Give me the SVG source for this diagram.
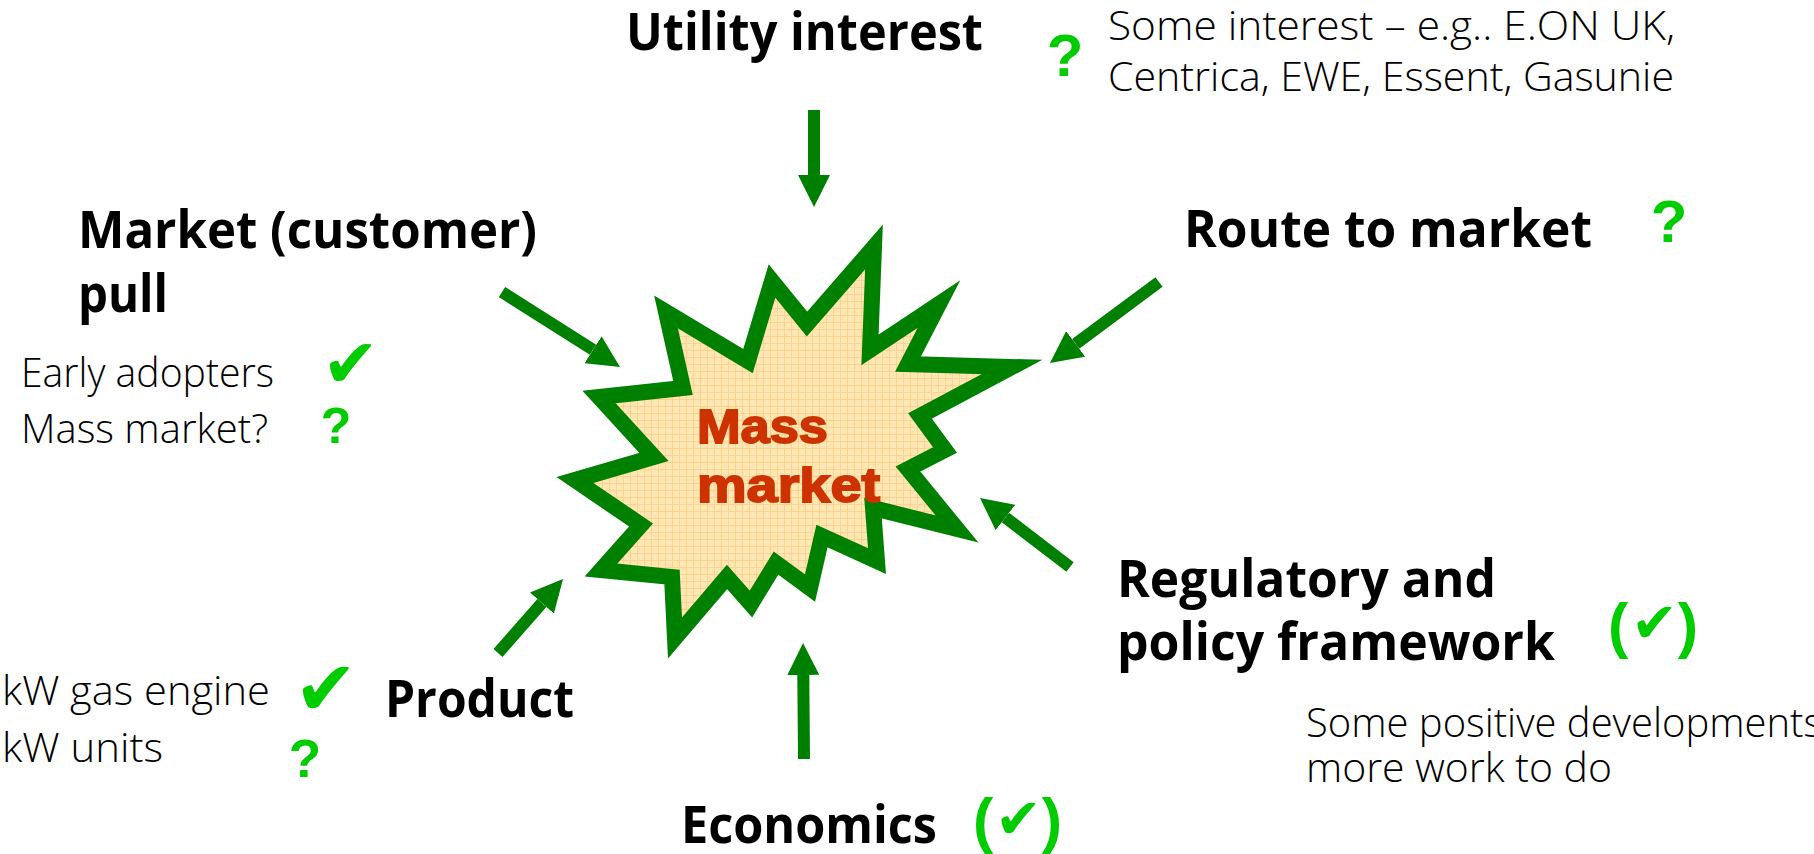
<svg xmlns="http://www.w3.org/2000/svg" width="1814" height="854" viewBox="0 0 1814 854">
<defs>
<style>
.h{font-family:"Open Sans","Liberation Sans",sans-serif;font-weight:bold;font-size:52px;fill:#000}
.b{font-family:"Open Sans","Liberation Sans",sans-serif;font-weight:300;font-size:41px;fill:#000}
.q{font-family:"Liberation Sans",sans-serif;font-weight:bold;fill:#00CC00;text-anchor:middle}
.ck{font-family:"DejaVu Sans",sans-serif;fill:#00CC00}
.par{font-family:"Liberation Sans",sans-serif;font-weight:bold;font-size:61px;fill:#00CC00}
.arr{stroke:#008000;stroke-width:12;fill:none;marker-end:url(#ah)}
.mm{font-family:"Liberation Sans",sans-serif;font-weight:bold;font-size:49px;fill:#CC3300;stroke:#CC3300;stroke-width:1.8}
</style>
<marker id="ah" markerUnits="strokeWidth" markerWidth="2.667" markerHeight="2.667" viewBox="0 0 32 32" refX="0" refY="16" orient="auto">
<path d="M0,0 L32,16 L0,32 z" fill="#008000"/>
</marker>
<pattern id="grid" width="7" height="7" patternUnits="userSpaceOnUse">
<rect width="7" height="7" fill="#FFE6B5"/>
<path d="M0,0.5 H7 M0.5,0 V7" stroke="#FFD48A" stroke-width="1"/>
</pattern>
</defs>

<g id="mass-market">
<polygon points="874,247 870,350 939,304 908,364 1012,367 920,416 945,450 908,469 957,529 873,508 877,561 822,536 810,588 776,563 751,604 727,577 675,638 672,577 601,570 641,525 575,480 654,457 599,397 683,388 666,312 748,361 772,281 807,324" fill="url(#grid)" stroke="#008000" stroke-width="16" stroke-linejoin="miter" stroke-miterlimit="30"/>
<text class="mm" x="697" y="443" textLength="131" lengthAdjust="spacingAndGlyphs">Mass</text>
<text class="mm" x="697" y="502" textLength="183" lengthAdjust="spacingAndGlyphs">market</text>
</g>

<g id="connectors">
<line class="arr" x1="814" y1="110" x2="814" y2="175"/>
<line class="arr" x1="804" y1="759" x2="803.3" y2="675"/>
<line class="arr" x1="1159" y1="282" x2="1075.7" y2="343.9"/>
<line class="arr" x1="1070" y1="567" x2="1005.4" y2="517.5"/>
<line class="arr" x1="502" y1="292" x2="593" y2="349.8"/>
<line class="arr" x1="498" y1="653" x2="541.9" y2="603"/>
</g>

<g id="utility-interest">
<text class="h" x="626" y="50" textLength="357" lengthAdjust="spacingAndGlyphs">Utility interest</text>
<text class="q" x="1065" y="76" font-size="60">?</text>
<text class="b" x="1108" y="40" textLength="567" lengthAdjust="spacingAndGlyphs">Some interest – e.g.. E.ON UK,</text>
<text class="b" x="1108" y="91" textLength="566" lengthAdjust="spacingAndGlyphs">Centrica, EWE, Essent, Gasunie</text>
</g>

<g id="route-to-market">
<text class="h" x="1184" y="247" textLength="408" lengthAdjust="spacingAndGlyphs">Route to market</text>
<text class="q" x="1669" y="242" font-size="60">?</text>
</g>

<g id="market-pull">
<text class="h" x="78" y="248" textLength="459" lengthAdjust="spacingAndGlyphs">Market (customer)</text>
<text class="h" x="78" y="312" textLength="90" lengthAdjust="spacingAndGlyphs">pull</text>
<text class="b" x="21" y="387" textLength="253" lengthAdjust="spacingAndGlyphs">Early adopters</text>
<text class="b" x="21" y="443" textLength="247" lengthAdjust="spacingAndGlyphs">Mass market?</text>
<text class="ck" x="322" y="387" font-size="68">✔</text>
<text class="q" x="336" y="443" font-size="50">?</text>
</g>

<g id="product">
<text class="b" x="2" y="705" textLength="268" lengthAdjust="spacingAndGlyphs">kW gas engine</text>
<text class="b" x="2" y="762" textLength="161" lengthAdjust="spacingAndGlyphs">kW units</text>
<text class="ck" x="294" y="715" font-size="76">✔</text>
<text class="q" x="305" y="777" font-size="53">?</text>
<text class="h" x="385" y="717" textLength="189" lengthAdjust="spacingAndGlyphs">Product</text>
</g>

<g id="regulatory">
<text class="h" x="1117" y="597" textLength="379" lengthAdjust="spacingAndGlyphs">Regulatory and</text>
<text class="h" x="1117" y="660" textLength="438" lengthAdjust="spacingAndGlyphs">policy framework</text>
<text class="par" x="1608" y="646">(</text>
<text class="ck" x="1631" y="642" font-size="56">✔</text>
<text class="par" x="1698" y="646" text-anchor="end">)</text>
<text class="b" x="1306" y="737" textLength="516" lengthAdjust="spacingAndGlyphs">Some positive developments</text>
<text class="b" x="1306" y="782" textLength="306" lengthAdjust="spacingAndGlyphs">more work to do</text>
</g>

<g id="economics">
<text class="h" x="681" y="843" textLength="256" lengthAdjust="spacingAndGlyphs">Economics</text>
<text class="par" x="973" y="841">(</text>
<text class="ck" x="995" y="838" font-size="56">✔</text>
<text class="par" x="1062" y="841" text-anchor="end">)</text>
</g>
</svg>
